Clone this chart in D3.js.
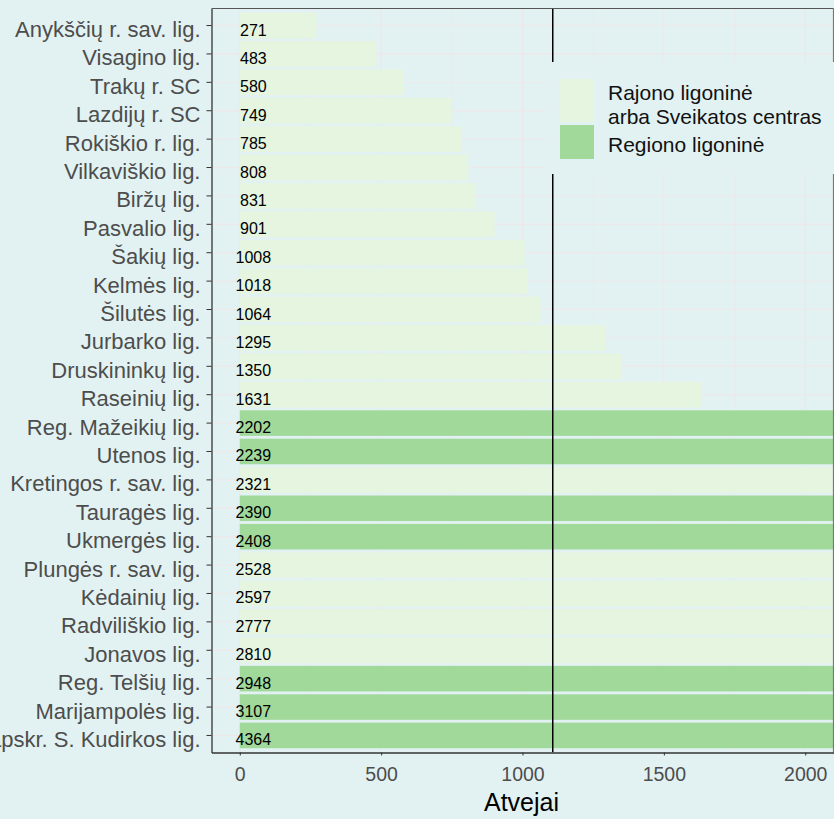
<!DOCTYPE html>
<html><head><meta charset="utf-8">
<script src="https://cdn.jsdelivr.net/npm/d3@7"></script>
<style>body{margin:0;background:#e2f2f2;} svg{display:block;}</style>
</head><body>
<svg id="c" width="834" height="819"></svg>
<script>
const categories = ["Anykščių r. sav. lig.","Visagino lig.","Trakų r. SC","Lazdijų r. SC","Rokiškio r. lig.","Vilkaviškio lig.","Biržų lig.","Pasvalio lig.","Šakių lig.","Kelmės lig.","Šilutės lig.","Jurbarko lig.","Druskininkų lig.","Raseinių lig.","Reg. Mažeikių lig.","Utenos lig.","Kretingos r. sav. lig.","Tauragės lig.","Ukmergės lig.","Plungės r. sav. lig.","Kėdainių lig.","Radviliškio lig.","Jonavos lig.","Reg. Telšių lig.","Marijampolės lig.","Alytaus apskr. S. Kudirkos lig."];
const values = [271,483,580,749,785,808,831,901,1008,1018,1064,1295,1350,1631,2202,2239,2321,2390,2408,2528,2597,2777,2810,2948,3107,4364];
const types = ["R","R","R","R","R","R","R","R","R","R","R","R","R","R","G","G","R","G","G","R","R","R","R","G","G","G"];
const typeLabels = {R:["Rajono ligoninė","arba Sveikatos centras"], G:["Regiono ligoninė"]};
const xTicks = [0,500,1000,1500,2000];
const refLine = 1107;
const colors = {R:"#e5f5e0", G:"#a1d99b"};

const FONT = "Liberation Sans, Arial, sans-serif";
const svg = d3.select("#c");
const L = 211.5, R = 833.5, T = 8.5, B = 752.5;
const x = d3.scaleLinear().domain([-100,2100]).range([L,R]);
const y = d3.scaleBand().domain(categories).range([T,B]).paddingInner(0.1).paddingOuter(0.15);
const bg = "#e2f2f2", grid = "#ede9eb";

svg.append("rect").attr("width",834).attr("height",819).attr("fill",bg);
svg.append("defs").append("clipPath").attr("id","cp").append("rect")
  .attr("x",L).attr("y",T).attr("width",R-L).attr("height",B-T);
const g = svg.append("g").attr("clip-path","url(#cp)");
// grid
const minor = d3.range(-250,2200,250).filter(v=>v%500!==0);
g.selectAll(".mn").data(minor).join("line").attr("x1",d=>x(d)).attr("x2",d=>x(d))
  .attr("y1",T).attr("y2",B).attr("stroke",grid).attr("stroke-width",0.7);
g.selectAll(".mj").data(xTicks).join("line").attr("x1",d=>x(d)).attr("x2",d=>x(d))
  .attr("y1",T).attr("y2",B).attr("stroke",grid).attr("stroke-width",1.4);
g.selectAll(".hg").data(categories).join("line").attr("x1",L).attr("x2",R)
  .attr("y1",d=>y(d)+y.bandwidth()/2).attr("y2",d=>y(d)+y.bandwidth()/2)
  .attr("stroke",grid).attr("stroke-width",1.4);
// bars
g.selectAll(".bar").data(categories).join("rect")
  .attr("x",x(0)).attr("y",d=>y(d)).attr("height",y.bandwidth())
  .attr("width",(d,i)=>x(values[i])-x(0)).attr("fill",(d,i)=>colors[types[i]]);
// value labels
g.selectAll(".vl").data(categories).join("text")
  .attr("x",x(48)).attr("y",d=>y(d)+y.bandwidth()/2+10)
  .attr("text-anchor","middle").attr("font-family",FONT)
  .attr("font-size",16).attr("fill","#000").text((d,i)=>values[i]);
// reference line
g.append("line").attr("x1",x(refLine)).attr("x2",x(refLine)).attr("y1",T).attr("y2",B)
  .attr("stroke","#000").attr("stroke-width",1.5);
// panel border top/right
svg.append("line").attr("x1",L).attr("x2",R).attr("y1",T).attr("y2",T).attr("stroke","#555").attr("stroke-width",1.2);
svg.append("line").attr("x1",R).attr("x2",R).attr("y1",T).attr("y2",B).attr("stroke","#777").attr("stroke-width",1.2);

// axes
const xa = svg.append("g").attr("transform",`translate(0,${B})`)
  .call(d3.axisBottom(x).tickValues(xTicks).tickFormat(d3.format("d")).tickSize(3).tickPadding(6).tickSizeOuter(0));
xa.select(".domain").attr("stroke","#333").attr("stroke-width",1.3);
xa.selectAll(".tick line").attr("stroke","#333");
xa.selectAll("text").attr("font-family",FONT).attr("font-size",19.5).attr("fill","#4d4d4d")
  .attr("dy",null).attr("y",28.5);
const ya = svg.append("g").attr("transform",`translate(${L},0)`)
  .call(d3.axisLeft(y).tickSize(5).tickPadding(6).tickSizeOuter(0));
ya.select(".domain").attr("stroke","#333").attr("stroke-width",1.3);
ya.selectAll(".tick line").attr("stroke","#333");
ya.selectAll("text").attr("font-family",FONT).attr("font-size",22).attr("fill","#4d4d4d")
  .attr("dy",null).attr("y",11.5);

svg.append("text").attr("x",x(1000)-1).attr("y",811).attr("text-anchor","middle")
  .attr("font-family",FONT).attr("font-size",25).attr("fill","#000").text("Atvejai");

// legend
const lg = svg.append("g");
lg.append("rect").attr("x",546).attr("y",62).attr("width",288).attr("height",112).attr("fill",bg);
const keys = [{k:"R",y:79,h:43,ty:[100,123.5]},{k:"G",y:125,h:34,ty:[152]}];
keys.forEach(o=>{
  lg.append("rect").attr("x",560).attr("y",o.y).attr("width",34).attr("height",o.h).attr("fill",colors[o.k]);
  typeLabels[o.k].forEach((t,j)=>{
    lg.append("text").attr("x",608).attr("y",o.ty[j]).attr("font-family",FONT)
      .attr("font-size",21).attr("fill","#111").text(t);
  });
});
</script>
</body></html>
